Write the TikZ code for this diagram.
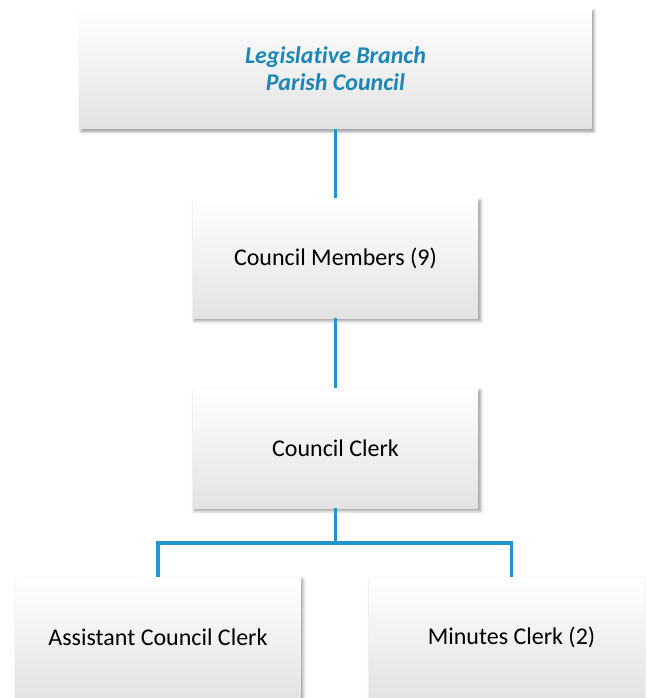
\documentclass[tikz,border=0pt]{standalone}
\usepackage{fontspec}
\setmainfont{Carlito}[Ligatures=NoCommon]
\usetikzlibrary{positioning, shadows.blur}
\tikzset{>=stealth}
\definecolor{linkblue}{RGB}{31,150,205}
\definecolor{headblue}{RGB}{28,134,184}

\begin{document}
\begin{tikzpicture}[x=0.75pt,y=-0.75pt,
		post/.style={minimum width=214pt, minimum height=90pt, inner sep=0pt, align=center,
			top color=white, middle color=white, bottom color=black!11,
			blur shadow={shadow xshift=1.5pt, shadow yshift=-2pt, shadow blur radius=2.5pt, shadow opacity=45},
			font=\fontsize{18}{20.5}\selectfont},
		link/.style={draw=linkblue, line width=2.3pt}]
		\useasboundingbox (0,0) rectangle (645,698);
		\clip (0,0) rectangle (645,698);
		
		\node[post, minimum width=384pt, font=\fontsize{18}{20.5}\selectfont\bfseries\itshape, text=headblue] (L) at (335.5,68.5) {Legislative Branch\\Parish Council};
		\node[post] (M) at (335.5,258) {Council Members (9)};
		\node[post] (C) at (335.5,448) {Council Clerk};
		\node[post] (A) at (158,637) {Assistant Council Clerk};
		\node[post] (K) at (511.5,637) {Minutes Clerk (2)};
		\coordinate (S) at (335.5,543);
		
		\draw[link](L) -- (M);
		\draw[link](M) -- (C);
		\draw[link](C) -- (S);
		\draw[link](S) -| (A);
		\draw[link](S) -| (K);
        \end{tikzpicture}
\end{document}
